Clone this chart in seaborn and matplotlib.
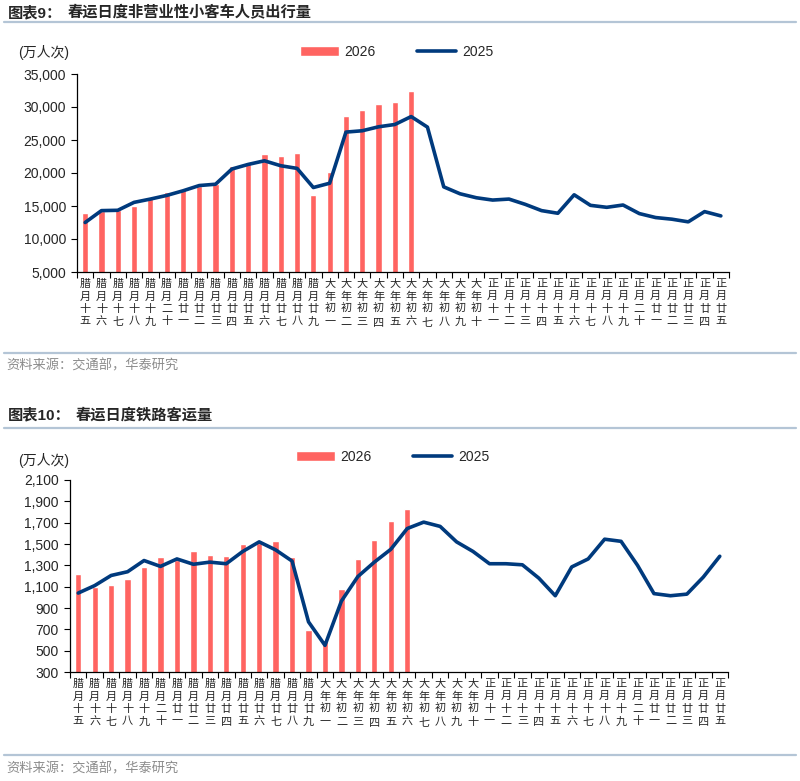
import numpy as np
import seaborn as sns
import matplotlib.pyplot as plt
from matplotlib.lines import Line2D
from matplotlib.ticker import FuncFormatter

sns.set_theme(style="white")
plt.rcParams['font.family'] = ['Liberation Sans', 'Noto Sans CJK SC', 'DejaVu Sans']

# 农历日期（腊月十五 ~ 正月廿五）
days = ["腊月十五", "腊月十六", "腊月十七", "腊月十八", "腊月十九", "腊月二十",
        "腊月廿一", "腊月廿二", "腊月廿三", "腊月廿四", "腊月廿五", "腊月廿六",
        "腊月廿七", "腊月廿八", "腊月廿九",
        "大年初一", "大年初二", "大年初三", "大年初四", "大年初五", "大年初六",
        "大年初七", "大年初八", "大年初九", "大年初十",
        "正月十一", "正月十二", "正月十三", "正月十四", "正月十五", "正月十六",
        "正月十七", "正月十八", "正月十九", "正月二十", "正月廿一", "正月廿二",
        "正月廿三", "正月廿四", "正月廿五"]

# 图表9：非营业性小客车人员出行量（万人次）
car_2026 = [13950, 14300, 14350, 15000, 16200, 17100, 17600, 18100, 18300, 21100,
            21600, 22900, 22600, 23000, 16600, 20150, 28700, 29600, 30500, 30700,
            32450]
car_2025 = [12500, 14300, 14350, 15550, 16050, 16600, 17300, 18100, 18300, 20600,
            21300, 21850, 21100, 20700, 17800, 18450, 26200, 26400, 27000, 27350,
            28550, 26950, 17900, 16850, 16250, 15900, 16050, 15250, 14300, 13900,
            16700, 15100, 14800, 15150, 13850, 13250, 13000, 12600, 14150, 13500]

# 图表10：铁路客运量（万人次）
rail_2026 = [1220, 1095, 1115, 1175, 1280, 1380, 1350, 1435, 1395, 1385,
             1500, 1510, 1530, 1380, 690, 600, 1080, 1355, 1540, 1715, 1825]
rail_2025 = [1040, 1110, 1205, 1240, 1345, 1290, 1360, 1310, 1330, 1315,
             1430, 1520, 1445, 1340, 770, 550, 965, 1195, 1330, 1450,
             1645, 1705, 1665, 1520, 1430, 1315, 1315, 1305, 1180, 1015,
             1285, 1360, 1545, 1525, 1300, 1035, 1015, 1030, 1190, 1385]

RED = "#FF6461"
NAVY = "#003A7D"
W, H = 800, 781


def fx(px):
    return px / W


def fy(py):
    return 1 - py / H


def draw_panel(fig, rect, bars, line, ylim, ystep, legend_xy):
    ax = fig.add_axes(rect)
    sns.barplot(x=days[:len(bars)], y=bars, order=days, color=RED, saturation=1,
                width=0.38, ax=ax, label="2026")
    sns.lineplot(x=np.arange(len(line)), y=line, color=NAVY, linewidth=2.6,
                 ax=ax, label="2025")
    ax.set_xlim(-0.5, len(days) - 0.5)
    ax.set_ylim(*ylim)
    ax.set_yticks(np.arange(ylim[0], ylim[1] + 1, ystep))
    ax.yaxis.set_major_formatter(FuncFormatter(lambda v, p: f"{v:,.0f}"))
    ax.set_xticks(np.arange(len(days)))
    ax.set_xticklabels(["\n".join(d) for d in days], fontsize=8, linespacing=1.3)
    ax.set_xticks(np.arange(-0.5, len(days), 1), minor=True)
    ax.tick_params(axis='x', which='major', length=0, pad=5)
    ax.tick_params(axis='x', which='minor', length=4, width=0.8, color='black',
                   direction='out', bottom=True)
    ax.tick_params(axis='y', length=4, width=0.8, color='black', direction='out',
                   left=True, labelsize=10, pad=4)
    ax.set_xlabel("")
    ax.set_ylabel("")
    for s in ['top', 'right']:
        ax.spines[s].set_visible(False)
    for s in ['left', 'bottom']:
        ax.spines[s].set_color('black')
        ax.spines[s].set_linewidth(0.9)
    handles, labels = ax.get_legend_handles_labels()
    hmap = dict(zip(labels, handles))
    ax.legend([hmap["2026"], hmap["2025"]], ["2026", "2025"], ncol=2, frameon=False,
              loc='center left', bbox_to_anchor=legend_xy,
              bbox_transform=fig.transFigure, fontsize=10, handlelength=2.8,
              handleheight=0.65, handletextpad=0.4, columnspacing=3.0,
              borderaxespad=0, borderpad=0)
    return ax


fig = plt.figure(figsize=(W / 100, H / 100), dpi=100)

# 上图
draw_panel(fig, [fx(77), fy(272), fx(729) - fx(77), fy(74) - fy(272)],
           car_2026, car_2025, (5000, 35000), 5000, (fx(300), fy(52)))
# 下图
draw_panel(fig, [fx(70), fy(672), fx(728) - fx(70), fy(480) - fy(672)],
           rail_2026, rail_2025, (300, 2100), 200, (fx(296), fy(457)))

LINE_C = "#B4C5D6"
for y in [22, 353, 428, 755]:
    fig.add_artist(Line2D([fx(4), fx(796)], [fy(y), fy(y)], transform=fig.transFigure,
                          color=LINE_C, lw=1.6))

fig.text(fx(8), fy(13), "图表9：", fontsize=11, fontweight='bold', va='center',
         ha='left')
fig.text(fx(68), fy(13), "春运日度非营业性小客车人员出行量", fontsize=11,
         fontweight='bold', va='center', ha='left')
fig.text(fx(8), fy(415), "图表10：", fontsize=11, fontweight='bold', va='center',
         ha='left')
fig.text(fx(76), fy(415), "春运日度铁路客运量", fontsize=11, fontweight='bold',
         va='center', ha='left')
fig.text(fx(18), fy(52), "(万人次)", fontsize=10, va='center', ha='left')
fig.text(fx(18), fy(461), "(万人次)", fontsize=10, va='center', ha='left')
fig.text(fx(6), fy(366), "资料来源：交通部，华泰研究", fontsize=9.5, color='#8C8C8C',
         va='center', ha='left')
fig.text(fx(6), fy(769), "资料来源：交通部，华泰研究", fontsize=9.5, color='#8C8C8C',
         va='center', ha='left')

fig.savefig("out.png", dpi=100)
